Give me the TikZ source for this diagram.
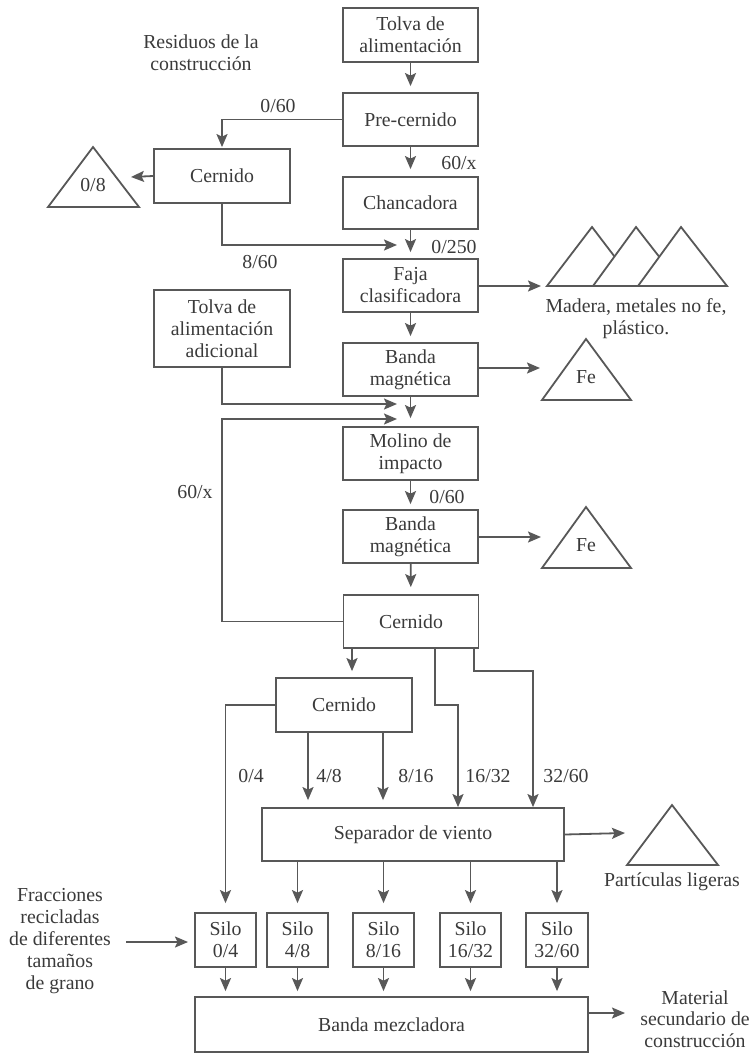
\documentclass[tikz,border=0pt]{standalone}
\usepackage{fontspec}
\setmainfont{Liberation Serif}
\usetikzlibrary{arrows.meta}
\definecolor{ink}{RGB}{88,88,88}
\definecolor{txt}{RGB}{58,58,58}
\begin{document}
\begin{tikzpicture}[x=1pt,y=-1pt,
  font=\fontsize{19.8}{22}\selectfont, color=ink, text=txt, line width=1.8pt,
  box/.style={draw=ink, rectangle, inner sep=0pt, align=center,
              minimum width=135pt, minimum height=53pt},
  lbl/.style={inner sep=0pt, align=center},
  arr/.style={-{Stealth[length=13pt,width=11pt,inset=2.5pt]}},
  gap/.style={shorten >=#1}]
\useasboundingbox (0,0) rectangle (754,1053);

% main column
\node[box, minimum height=54pt] (tolva) at (410.5,35) {Tolva de\\alimentación};
\node[box] (precern) at (410.5,119.5) {Pre-cernido};
\node[box, minimum width=136pt, minimum height=54pt] (cern1) at (222,176) {Cernido};
\node[box, minimum height=52pt] (chanc) at (410.5,203) {Chancadora};
\node[box] (faja) at (410.5,285.5) {Faja\\clasificadora};
\node[box, minimum width=136pt, minimum height=77pt] (adic) at (222,328.5) {Tolva de\\alimentación\\adicional};
\node[box] (banda1) at (410.5,369.5) {Banda\\magnética};
\node[box] (molino) at (410.5,453.5) {Molino de\\impacto};
\node[box] (banda2) at (410.5,536.5) {Banda\\magnética};
\node[box] (cern2) at (411,621.5) {Cernido};
\node[box, minimum width=136pt, minimum height=54pt] (cern3) at (344,705) {Cernido};
\node[box, minimum width=302pt] (sep) at (413,834.5) {Separador de viento};

% silos
\node[box, minimum width=61pt, minimum height=54pt] (s1) at (225.5,940) {Silo\\0/4};
\node[box, minimum width=61pt, minimum height=54pt] (s2) at (297.5,940) {Silo\\4/8};
\node[box, minimum width=61pt, minimum height=54pt] (s3) at (383.5,940) {Silo\\8/16};
\node[box, minimum width=61pt, minimum height=54pt] (s4) at (470.5,940) {Silo\\16/32};
\node[box, minimum width=62pt, minimum height=54pt] (s5) at (557,940) {Silo\\32/60};
\node[box, minimum width=393pt, minimum height=55pt] (mezcl) at (391.5,1024.5) {Banda mezcladora};

% waste heaps
\draw[fill=white] (48,207) -- (93,147) -- (139,207) -- cycle;
\node[lbl] (t08) at (93,185) {0/8};
\draw[fill=white] (547,286) -- (592,227) -- (637,286) -- cycle;
\draw[fill=white] (593,286) -- (636,227) -- (682,286) -- cycle;
\draw[fill=white] (638,286) -- (681,227) -- (727,286) -- cycle;
\draw[fill=white] (542,400) -- (586,339) -- (631,400) -- cycle;
\node[lbl] (fe1) at (586,377) {Fe};
\draw[fill=white] (542,568) -- (586,507) -- (631,568) -- cycle;
\node[lbl] (fe2) at (586,545) {Fe};
\draw[fill=white] (627,865) -- (672,805) -- (718,865) -- cycle;

\coordinate (heap08) at (131,177);
\coordinate (heaps) at (541,286);
\coordinate (heapfe1) at (540,368);
\coordinate (heapfe2) at (541,537);
\coordinate (heaplig) at (625,833);
\coordinate (prod) at (625,1013);
\coordinate (feed) at (126,942);

% labels
\node[lbl] (resid) at (201,53) {Residuos de la\\construcción};
\node[lbl] (l060a) at (278,106) {0/60};
\node[lbl] (l60xa) at (459,163) {60/x};
\node[lbl] (l0250) at (454,247) {0/250};
\node[lbl] (l860) at (260,262) {8/60};
\node[lbl] (mad) at (636,318.5) {Madera, metales no fe,\\plástico.};
\node[lbl] (l60xb) at (195,492) {60/x};
\node[lbl] (l060b) at (447,497) {0/60};
\node[lbl] (l04) at (251,776) {0/4};
\node[lbl] (l48) at (329,776) {4/8};
\node[lbl] (l816) at (416,776) {8/16};
\node[lbl] (l1632) at (488,776) {16/32};
\node[lbl] (l3260) at (566,776) {32/60};
\node[lbl] (lig) at (672,882) {Partículas ligeras};
\node[lbl] (frac) at (60,941) {Fracciones\\recicladas\\de diferentes\\tamaños\\de grano};
\node[lbl, font=\fontsize{19.8}{21.5}\selectfont] (mat) at (695,1019) {Material\\secundario de\\construcción};

% main flow
\draw[arr, gap=6pt] (tolva) -- (precern);
\draw[arr, gap=7pt] (precern) -- (chanc);
\draw[arr, gap=6pt] (chanc) -- (faja);
\draw[arr, gap=6pt] (faja) -- (banda1);
\draw[arr, gap=8pt] (banda1) -- (molino);
\draw[arr, gap=5pt] (molino) -- (banda2);
\draw[arr, gap=7pt] (banda2) -- (cern2);

% pre-screening branch
\draw[arr, gap=1pt] (precern.west) -| (cern1.north);
\draw[arr] (cern1.west) -- (heap08);
\draw[arr] (cern1.south) |- (397,245);

% sorting outputs
\draw[arr] (faja.east |- heaps) -- (heaps);
\draw[arr] (banda1.east |- heapfe1) -- (heapfe1);
\draw[arr] (banda2.east |- heapfe2) -- (heapfe2);

% additional feed and oversize return
\draw[arr] (adic.south) |- (397,404);
\draw[arr] (cern2.west) -| (222,419) -- (397,419);

% screening into fractions
\draw[arr, gap=6pt] (cern2.south -| 352,0) -- (cern3.north -| 352,0);
\draw[arr] (cern2.south -| 435,0) |- (458,705) -- (sep.north -| 458,0);
\draw[arr] (cern2.south -| 474,0) |- (533,671) -- (sep.north -| 533,0);
\draw[arr, gap=7pt] (cern3.south -| 308,0) -- (sep.north -| 308,0);
\draw[arr, gap=7pt] (cern3.south -| 383,0) -- (sep.north -| 383,0);
\draw[arr, gap=9pt] (cern3.west) -| (s1.north);

% wind separator
\draw[arr] (sep.east) -- (heaplig);
\draw[arr, gap=9pt] (sep.south -| s2.north) -- (s2.north);
\draw[arr, gap=9pt] (sep.south -| s3.north) -- (s3.north);
\draw[arr, gap=9pt] (sep.south -| s4.north) -- (s4.north);
\draw[arr, gap=9pt] (sep.south -| s5.north) -- (s5.north);

% silos to mixing belt
\draw[arr] (feed) -- (188,942);
\foreach \s in {s1,s2,s3,s4,s5}
  \draw[arr, gap=5pt] (\s.south) -- (\s.south |- mezcl.north);
\draw[arr] (mezcl.east |- prod) -- (prod);
\end{tikzpicture}
\end{document}
